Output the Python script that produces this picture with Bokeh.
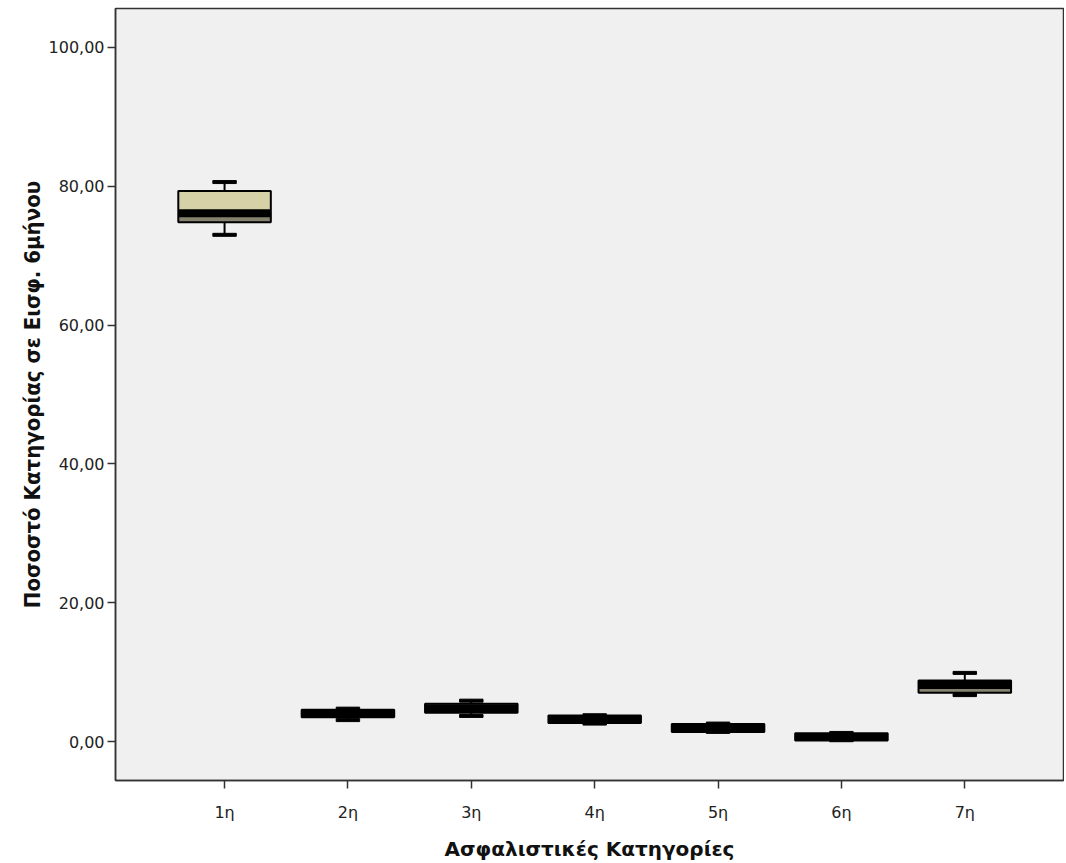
from bokeh.plotting import figure
from bokeh.models import Range1d, FixedTicker, ColumnDataSource, Title
from bokeh.embed import file_html
from bokeh.resources import INLINE

categories = ["1η", "2η", "3η", "4η", "5η", "6η", "7η"]
positions = [1, 2, 3, 4, 5, 6, 7]
lower_whisker = [73.0, 3.1, 3.7, 2.6, 1.4, 0.2, 6.7]
q1 = [74.8, 3.5, 4.15, 2.7, 1.4, 0.15, 7.05]
median = [76.1, 4.0, 4.8, 3.2, 2.0, 0.65, 8.15]
q3 = [79.3, 4.6, 5.45, 3.75, 2.55, 1.2, 8.8]
upper_whisker = [80.6, 4.75, 5.9, 3.8, 2.6, 1.25, 9.9]

y_ticks = [0, 20, 40, 60, 80, 100]
y_tick_labels = ["0,00", "20,00", "40,00", "60,00", "80,00", "100,00"]

x_title = "Ασφαλιστικές Κατηγορίες"
y_title = "Ποσοστό Κατηγορίας σε Εισφ. 6μήνου"

src = ColumnDataSource(dict(x=positions, lw=lower_whisker, q1=q1, med=median,
                            q3=q3, uw=upper_whisker))

p = figure(width=1064, height=863, output_backend="svg", toolbar_location=None,
           x_range=Range1d(0.116, 7.8), y_range=Range1d(-5.6, 105.6),
           min_border_left=115, min_border_right=1, min_border_top=8,
           min_border_bottom=74)

p.background_fill_color = "#f0f0f0"
p.border_fill_color = "white"
p.outline_line_color = "#333333"
p.outline_line_width = 1.5
p.xgrid.visible = False
p.ygrid.visible = False

# whiskers
p.segment(x0="x", x1="x", y0="q3", y1="uw", source=src, line_color="black", line_width=2)
p.segment(x0="x", x1="x", y0="lw", y1="q1", source=src, line_color="black", line_width=2)
p.rect(x="x", y="uw", width=0.19, height=3, height_units="screen", source=src,
       fill_color="black", line_color="black")
p.rect(x="x", y="lw", width=0.19, height=3, height_units="screen", source=src,
       fill_color="black", line_color="black")

# boxes
p.vbar(x="x", width=0.75, bottom="med", top="q3", source=src,
       fill_color="#d6d1a6", line_color=None)
p.vbar(x="x", width=0.75, bottom="q1", top="med", source=src,
       fill_color="#85836f", line_color=None)
p.vbar(x="x", width=0.75, bottom="q1", top="q3", source=src,
       fill_alpha=0, line_color="black", line_width=2)
p.rect(x="x", y="med", width=0.75, height=8, height_units="screen", source=src,
       fill_color="black", line_color=None)

# axes
for ax in (p.xaxis[0], p.yaxis[0]):
    ax.axis_line_color = "#333333"
    ax.axis_line_width = 1.5
    ax.major_tick_line_color = "#333333"
    ax.major_tick_line_width = 1.5
    ax.major_tick_out = 8
    ax.major_tick_in = 0
    ax.minor_tick_line_color = None
    ax.major_label_text_font = "DejaVu Sans"
    ax.major_label_text_font_size = "16px"
    ax.major_label_text_color = "#222222"

p.yaxis.ticker = FixedTicker(ticks=y_ticks)
p.yaxis.major_label_overrides = {t: l for t, l in zip(y_ticks, y_tick_labels)}
p.yaxis.major_label_standoff = 3
p.xaxis.ticker = FixedTicker(ticks=positions)
p.xaxis.major_label_overrides = {x: c for x, c in zip(positions, categories)}
p.xaxis.major_label_standoff = 14

p.xaxis.axis_label = x_title
p.xaxis.axis_label_text_font = "DejaVu Sans"
p.xaxis.axis_label_text_font_style = "bold"
p.xaxis.axis_label_text_font_size = "20px"
p.xaxis.axis_label_text_color = "#111111"
p.xaxis.axis_label_standoff = 12

yt = Title(text=y_title, align="center", offset=-17, standoff=2,
           text_font="DejaVu Sans Condensed", text_font_style="bold",
           text_font_size="22px", text_color="#111111")
p.add_layout(yt, "left")

open("out.html", "w").write(file_html(p, INLINE))
